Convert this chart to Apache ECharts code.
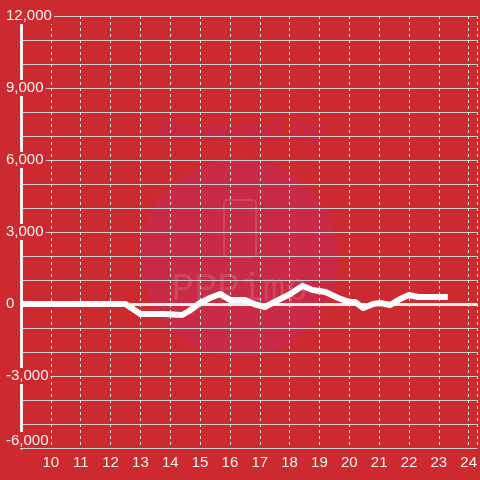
<!DOCTYPE html>
<html>
<head>
<meta charset="utf-8">
<script src="https://cdn.jsdelivr.net/npm/echarts@6/dist/echarts.min.js"></script>
<style>html,body{margin:0;padding:0;background:#cc2a2e;}#c{width:480px;height:480px;}</style>
</head>
<body>
<div id="c"></div>
<script>
// Data
const hours = [9, 12.5, 13, 13.8, 14.4, 14.63, 15, 15.33, 15.67, 16, 16.5, 16.8, 17.17, 17.63, 18, 18.17, 18.43, 18.77, 19.2, 19.63, 20, 20.2, 20.47, 20.8, 21.03, 21.37, 21.7, 22, 22.3, 23.3];
const values = [0, 0, -420, -420, -460, -290, 40, 250, 420, 170, 170, 0, -125, 170, 400, 540, 750, 580, 500, 250, 80, 80, -170, 0, 40, -40, 210, 375, 290, 290];
const xTicks = [10, 11, 12, 13, 14, 15, 16, 17, 18, 19, 20, 21, 22, 23, 24];
const yTicks = [-6000, -3000, 0, 3000, 6000, 9000, 12000];
const zeroLine = 0;

const BG = '#cc2a2e';
const chart = echarts.init(document.getElementById('c'));
const pts = hours.map((h, i) => [h, values[i]]);

chart.setOption({
  backgroundColor: BG,
  animation: false,
  textStyle: { fontFamily: 'Liberation Sans, Arial, sans-serif' },
  graphic: [
    { type: 'circle', z: -10, shape: { cx: 239, cy: 258, r: 99 }, style: { fill: '#c92a45' } },
    { type: 'text', z: -9, x: 241, y: 132, style: { text: 'Powered by', fill: '#c4284a', font: 'italic bold 30px Liberation Sans', align: 'center', verticalAlign: 'middle' } },
    { type: 'rect', z: -9, shape: { x: 224, y: 200, width: 32, height: 57, r: 4 }, style: { fill: 'none', stroke: 'rgba(255,255,255,0.13)', lineWidth: 2 } },
    { type: 'text', z: -9, x: 240, y: 290, style: { text: 'PPPimp', fill: 'rgba(255,255,255,0.13)', font: '38px Liberation Mono', align: 'center', verticalAlign: 'middle' } }
  ],
  grid: { left: 21, right: 0, top: 16, bottom: 32, containLabel: false },
  xAxis: {
    type: 'value',
    min: 9, max: 24.3, interval: 1,
    axisLine: { show: false },
    axisTick: { show: false },
    axisLabel: {
      color: '#f2f2f2', fontSize: 15, margin: 7,
      showMinLabel: false, showMaxLabel: false,
      formatter: v => (xTicks.indexOf(v) >= 0 ? String(v) : '')
    },
    splitLine: { show: true, lineStyle: { color: '#e0e0e0', width: 1, type: [3, 3] } }
  },
  yAxis: {
    type: 'value',
    min: yTicks[0], max: yTicks[yTicks.length - 1], interval: 3000,
    axisLine: { show: true, lineStyle: { color: '#eeeeee', width: 3 } },
    axisTick: { show: false },
    axisLabel: {
      color: '#f2f2f2', fontSize: 15, align: 'left', margin: 17,
      backgroundColor: BG, padding: [1, 2, 0, 2],
      verticalAlignMinLabel: 'bottom',
      formatter: v => v.toLocaleString('en-US')
    },
    splitLine: { show: true, lineStyle: { color: '#cccccc', width: 1 } },
    minorTick: { show: false, splitNumber: 3 },
    minorSplitLine: { show: true, lineStyle: { color: '#cccccc', width: 1 } }
  },
  series: [{
    type: 'line',
    data: pts,
    showSymbol: false,
    smooth: false,
    lineStyle: { color: '#ffffff', width: 6, join: 'round', cap: 'butt' },
    z: 5,
    markLine: {
      silent: true,
      z: 1,
      symbol: ['none', 'none'],
      label: { show: false },
      lineStyle: { color: '#eeeeee', width: 3, type: 'solid' },
      data: [{ yAxis: zeroLine }]
    }
  }]
});
</script>
</body>
</html>
